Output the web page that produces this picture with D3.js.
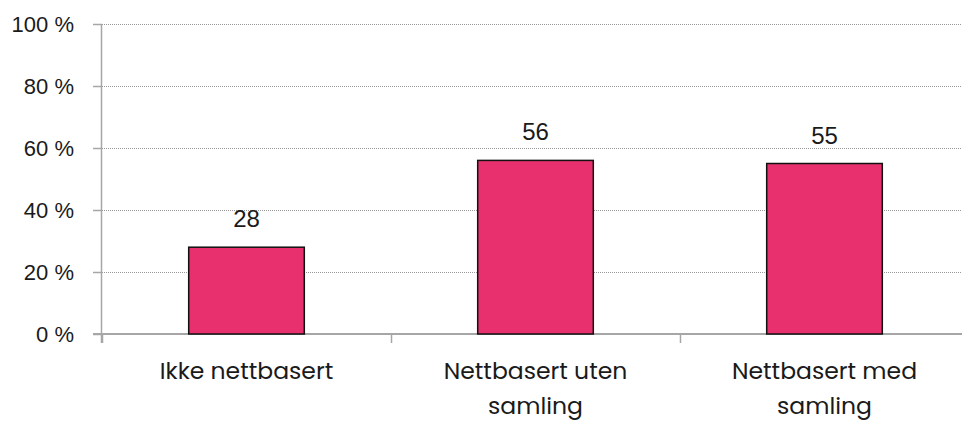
<!DOCTYPE html>
<html><head><meta charset="utf-8">
<script src="https://cdn.jsdelivr.net/npm/d3@7"></script>
<style>
html,body{margin:0;padding:0;background:#fff;}
svg{display:block;font-family:Poppins,"DejaVu Sans",sans-serif;}
</style></head><body>
<svg id="c" width="962" height="421"></svg>
<script>
const categories = [["Ikke nettbasert"], ["Nettbasert uten", "samling"], ["Nettbasert med", "samling"]];
const values = [28, 56, 55];
const yTicks = [0, 20, 40, 60, 80, 100];

(function () {
const svg = d3.select("#c");
const mLeft = 102, mRight = 969, mTop = 24, mBottom = 334;
const keys = categories.map(c => c.join(" "));
const x = d3.scaleBand().domain(keys).range([mLeft, mRight]).paddingInner(0.6).paddingOuter(0.3);
const y = d3.scaleLinear().domain([0, 100]).range([mBottom, mTop]);
const textColor = "#1a1a1a";
const numFont = "'Liberation Sans', Arial, sans-serif";

// gridlines
svg.append("g").selectAll("line").data(yTicks.filter(d => d > 0)).join("line")
  .attr("x1", mLeft).attr("x2", 962).attr("y1", d => y(d) + 0.5).attr("y2", d => y(d) + 0.5)
  .attr("stroke", "#999").attr("stroke-width", 1).attr("stroke-dasharray", "1,1");

// y axis
const yAxis = svg.append("g").attr("transform", `translate(${mLeft},0)`)
  .call(d3.axisLeft(y).tickValues(yTicks).tickSize(9).tickPadding(19).tickFormat(d => d + " %"));
yAxis.attr("font-family", null).attr("font-size", null);
yAxis.select(".domain").attr("stroke", "#a6a6a6").attr("stroke-width", 1.5).attr("d", `M-0.5,${mTop}V${mBottom + 9}`);
yAxis.selectAll(".tick line").attr("stroke", "#a6a6a6").attr("stroke-width", 1.5);
yAxis.selectAll(".tick text").attr("fill", textColor)
  .style("font-size", "22px").style("font-family", numFont).attr("dy", "0.36em");

// x axis line
svg.append("line").attr("x1", mLeft - 9).attr("x2", 962).attr("y1", mBottom).attr("y2", mBottom)
  .attr("stroke", "#a6a6a6").attr("stroke-width", 2);
// boundary ticks
const bounds = keys.map(k => x(k) - x.step() * 0.3).concat([x(keys[2]) + x.bandwidth() + x.step() * 0.3]);
svg.append("g").selectAll("line").data(bounds).join("line")
  .attr("x1", d => Math.round(d) + 0.5).attr("x2", d => Math.round(d) + 0.5)
  .attr("y1", mBottom).attr("y2", mBottom + 9).attr("stroke", "#a6a6a6").attr("stroke-width", 1.5);

// bars
svg.append("g").selectAll("rect").data(values).join("rect")
  .attr("x", (d, i) => x(keys[i])).attr("width", x.bandwidth())
  .attr("y", d => y(d)).attr("height", d => y(0) - y(d))
  .attr("fill", "#e8306f").attr("stroke", "#111").attr("stroke-width", 1.5);

// value labels
svg.append("g").selectAll("text").data(values).join("text")
  .attr("x", (d, i) => x(keys[i]) + x.bandwidth() / 2).attr("y", d => y(d) - 20)
  .attr("text-anchor", "middle").attr("fill", textColor)
  .style("font-size", "24px").style("font-family", numFont)
  .text(d => d);

// category labels
const cat = svg.append("g").selectAll("text").data(categories).join("text")
  .attr("text-anchor", "middle").attr("fill", textColor).style("font-size", "23.5px")
  .attr("x", (d, i) => x(keys[i]) + x.bandwidth() / 2).attr("y", 379);
cat.selectAll("tspan").data(d => d).join("tspan")
  .attr("x", function () { return d3.select(this.parentNode).attr("x"); })
  .attr("dy", (d, i) => i === 0 ? 0 : 35).text(d => d);
})();
</script>
</body></html>
